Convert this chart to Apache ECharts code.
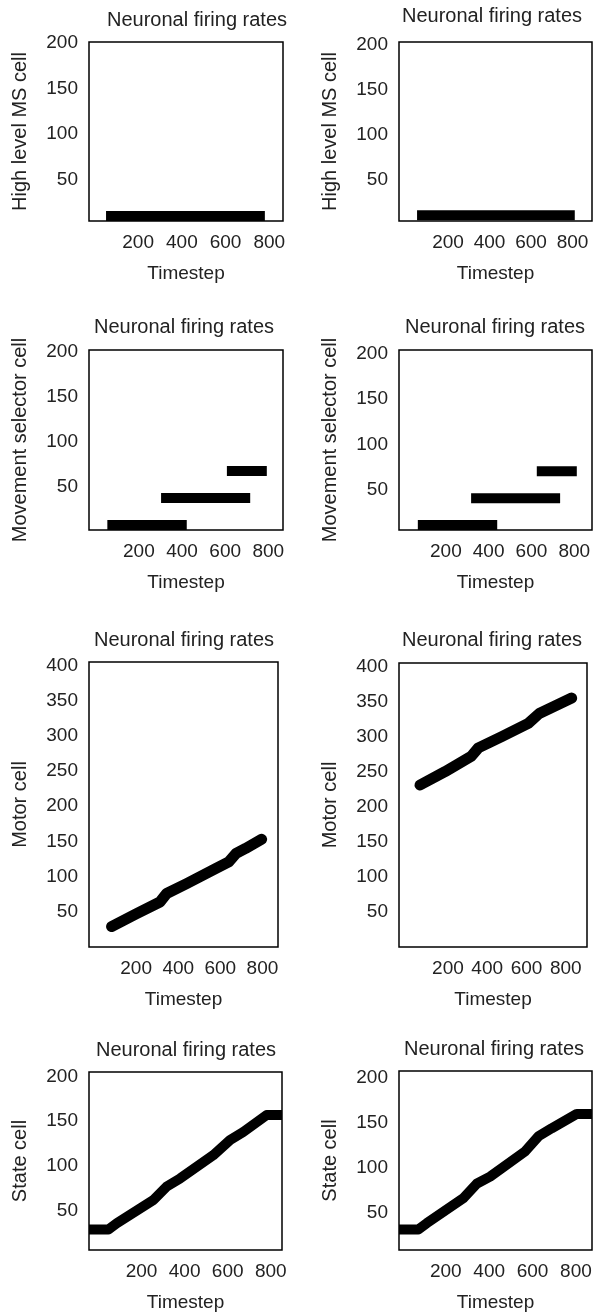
<!DOCTYPE html>
<html>
<head>
<meta charset="utf-8">
<script src="https://cdn.jsdelivr.net/npm/echarts@6/dist/echarts.min.js"></script>
<style>
  html, body { margin: 0; padding: 0; background: #fff; }
  #chart { width: 595px; height: 1315px; }
</style>
</head>
<body>
<div id="chart"></div>
<script>
// tick labels
const timestepTicks = [200, 400, 600, 800];
const rateTicks200 = [50, 100, 150, 200];
const rateTicks400 = [50, 100, 150, 200, 250, 300, 350, 400];

// High level MS cell: one flat band
const highMsLeft = [[53, 10.5], [780, 10.5]];
const highMsRight = [[51, 10.3], [811, 10.3]];

// Movement selector cell: three flat segments
const selectorLeft = [
  [[54, 7.5], [422, 7.5]],
  [[303, 37.5], [716, 37.5]],
  [[608, 67.5], [793, 67.5]]
];
const selectorRight = [
  [[69, 11.5], [440, 11.5]],
  [[318, 41], [734, 41]],
  [[625, 70.5], [812, 70.5]]
];

// Motor cell
const motorLeft = [[83, 29], [200, 47], [313, 64], [345, 76], [440, 90], [582, 112],
  [640, 121], [675, 133], [720, 140], [796, 153]];
const motorRight = [[58, 231], [185, 250], [319, 272], [355, 284], [474, 300], [609, 319],
  [665, 333], [830, 355]];

// State cell
const stateLeft = [[-44, 29], [46, 29], [85, 36], [255, 62], [317, 77], [379, 86], [533, 112],
  [611, 129], [672, 138], [781, 157], [852, 157]];
const stateRight = [[-16, 31], [73, 31], [112, 38], [281, 66], [342, 82], [404, 90], [565, 118],
  [627, 135], [688, 144], [804, 160], [874, 160]];

const FONT = "'Liberation Sans', Arial, sans-serif";
const TXT = "#222";

// one entry per panel, row by row
const panels = [
  { box: [89, 42, 194, 179], x: [-25, 863], y: [5, 201], yTicks: rateTicks200, yName: "High level MS cell", title: [197, 20], lines: [highMsLeft], lw: 10, cap: "butt" },
  { box: [399, 42, 193, 179], x: [-36, 894], y: [4, 203], yTicks: rateTicks200, yName: "High level MS cell", title: [492, 16], lines: [highMsRight], lw: 10, cap: "butt" },
  { box: [89, 350, 194, 180], x: [-31, 868], y: [2, 202], yTicks: rateTicks200, yName: "Movement selector cell", title: [184, 327], lines: selectorLeft, lw: 10, cap: "butt" },
  { box: [399, 350, 193, 180], x: [-19, 883], y: [6, 204], yTicks: rateTicks200, yName: "Movement selector cell", title: [495, 327], lines: selectorRight, lw: 10, cap: "butt" },
  { box: [89, 662, 189, 285], x: [-24, 874], y: [0, 405], yTicks: rateTicks400, yName: "Motor cell", title: [184, 640], lines: [motorLeft], lw: 11, cap: "round" },
  { box: [399, 663, 188, 284], x: [-49, 908], y: [0, 405], yTicks: rateTicks400, yName: "Motor cell", title: [492, 640], lines: [motorRight], lw: 11, cap: "round" },
  { box: [89, 1072, 193, 178], x: [-44, 852], y: [6, 205], yTicks: rateTicks200, yName: "State cell", title: [186, 1050], lines: [stateLeft], lw: 10, cap: "butt" },
  { box: [399, 1071, 193, 179], x: [-16, 874], y: [8, 208], yTicks: rateTicks200, yName: "State cell", title: [494, 1049], lines: [stateRight], lw: 10, cap: "butt" }
];

const textStyle = { fontSize: 19, fontFamily: FONT, color: TXT };
const nameStyle = { fontSize: 20, fontFamily: FONT, color: TXT };

const grids = panels.map(p => ({
  left: p.box[0], top: p.box[1], width: p.box[2], height: p.box[3],
  show: true, borderColor: "#000", borderWidth: 1.5, backgroundColor: "#fff",
  containLabel: false, outerBoundsMode: "none"
}));

const xAxes = panels.map((p, i) => ({
  type: "value", gridIndex: i, min: p.x[0], max: p.x[1],
  axisLine: { show: false }, axisTick: { show: false }, splitLine: { show: false },
  axisLabel: Object.assign({ customValues: timestepTicks, margin: 12 }, textStyle),
  name: "Timestep", nameLocation: "middle", nameGap: 43,
  nameTextStyle: textStyle
}));

const yAxes = panels.map((p, i) => ({
  type: "value", gridIndex: i, min: p.y[0], max: p.y[1],
  axisLine: { show: false }, axisTick: { show: false }, splitLine: { show: false },
  axisLabel: Object.assign({ customValues: p.yTicks, margin: 11 }, textStyle),
  name: p.yName, nameLocation: "middle", nameGap: 59,
  nameTextStyle: nameStyle
}));

const series = [];
panels.forEach((p, i) => {
  p.lines.forEach(seg => {
    series.push({
      type: "line", xAxisIndex: i, yAxisIndex: i, data: seg,
      symbol: "none", silent: true,
      lineStyle: { color: "#000", width: p.lw, cap: p.cap, join: "round" }
    });
  });
});

const titles = panels.map(p => ({
  type: "text", x: p.title[0], y: p.title[1], silent: true,
  style: {
    text: "Neuronal firing rates", fontSize: 20, fontFamily: FONT, fill: TXT,
    align: "center", verticalAlign: "middle",
    textAlign: "center", textVerticalAlign: "middle"
  }
}));

const chart = echarts.init(document.getElementById("chart"), null, { renderer: "canvas" });
chart.setOption({
  animation: false,
  backgroundColor: "#fff",
  grid: grids,
  xAxis: xAxes,
  yAxis: yAxes,
  series: series,
  graphic: titles
});
</script>
</body>
</html>
